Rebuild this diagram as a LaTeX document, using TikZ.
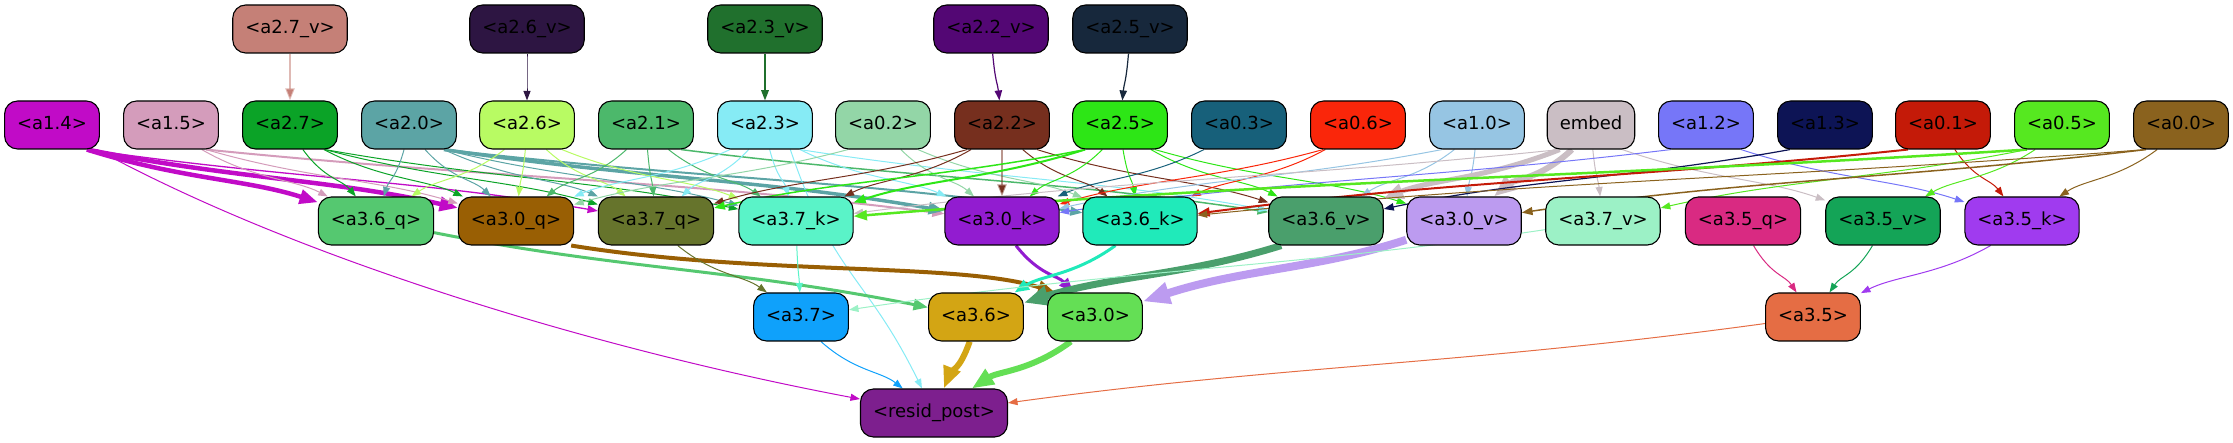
\documentclass[tikz,border=0pt]{standalone}
\usepackage{fontspec}
\setmainfont{DejaVu Sans}
\usetikzlibrary{arrows.meta,calc,backgrounds}
\definecolor{ca27v}{HTML}{C58077}
\definecolor{ca26v}{HTML}{2D1542}
\definecolor{ca23v}{HTML}{20702D}
\definecolor{ca22v}{HTML}{530774}
\definecolor{ca25v}{HTML}{17283C}
\definecolor{ca14}{HTML}{C10BC7}
\definecolor{ca15}{HTML}{D49CBB}
\definecolor{ca27}{HTML}{0BA327}
\definecolor{ca20}{HTML}{5CA4A5}
\definecolor{ca26}{HTML}{B8FB63}
\definecolor{ca21}{HTML}{4CB86B}
\definecolor{ca23}{HTML}{86EBF5}
\definecolor{ca02}{HTML}{93D6A7}
\definecolor{ca22}{HTML}{762F1E}
\definecolor{ca25}{HTML}{2DE616}
\definecolor{ca03}{HTML}{17607A}
\definecolor{ca06}{HTML}{FA260A}
\definecolor{ca10}{HTML}{96C5E3}
\definecolor{cemb}{HTML}{CABEC4}
\definecolor{ca12}{HTML}{7676F8}
\definecolor{ca13}{HTML}{0D1455}
\definecolor{ca01}{HTML}{C41A08}
\definecolor{ca05}{HTML}{56E820}
\definecolor{ca00}{HTML}{8A621E}
\definecolor{cq36}{HTML}{55C870}
\definecolor{cq30}{HTML}{995F04}
\definecolor{cq37}{HTML}{66742C}
\definecolor{ck37}{HTML}{5AF3C8}
\definecolor{ck30}{HTML}{921CD0}
\definecolor{ck36}{HTML}{20EABA}
\definecolor{cv36}{HTML}{4A9F6C}
\definecolor{cv30}{HTML}{BC9BF0}
\definecolor{cv37}{HTML}{9CF1C6}
\definecolor{cq35}{HTML}{D92A82}
\definecolor{cv35}{HTML}{14A457}
\definecolor{ck35}{HTML}{A03BEF}
\definecolor{ca37}{HTML}{0FA1FB}
\definecolor{ca36}{HTML}{D3A514}
\definecolor{ca30}{HTML}{64DF55}
\definecolor{ca35}{HTML}{E56D44}
\definecolor{cresid}{HTML}{7D1F8E}
% connector: leaves the bottom of the source, enters the target's border
\newcommand\ee[4]{\draw[edge, line width=#1pt, draw=c#2, #4] let \p1=(#2.south), \p2=(#3.center), \p3=(#2.south east), \n1={max(-(\x3-\x1-13),min(\x3-\x1-13,0.15*(\x2-\x1)))} in ({\x1+\n1},{\y1}) .. controls ({\x1+0.4*(\x2-\x1)},{0.5*(\y1+\y2)+6}) and ({\x2-0.4*(\x2-\x1)},{0.5*(\y1+\y2)+6}) .. (#3);}
% border-to-border connector
\newcommand\es[4]{\draw[edge, line width=#1pt, draw=c#2, #4] let \p1=(#2.center), \p2=(#3.center) in (#2) .. controls ({\x1+0.4*(\x2-\x1)},{0.5*(\y1+\y2)}) and ({\x2-0.4*(\x2-\x1)},{0.5*(\y1+\y2)}) .. (#3);}
\begin{document}
\begin{tikzpicture}[x=1pt,y=-1pt,
  box/.style={draw=black, line width=1.1pt, rounded corners=13pt, minimum height=48pt, inner xsep=12.5pt, inner ysep=0pt, text height=13pt, text depth=4.3pt, font=\fontsize{18}{20}\selectfont, text=black},
  edge/.style={-{Triangle[length=7pt 2.5,width=5pt 2]}}]
\useasboundingbox (0,0) rectangle (2233,443);
% row 1
\node[box, fill=ca27v] (a27v) at (290,29) {<a2.7\_v>};
\node[box, fill=ca26v] (a26v) at (527,29) {<a2.6\_v>};
\node[box, fill=ca23v] (a23v) at (765,29) {<a2.3\_v>};
\node[box, fill=ca22v] (a22v) at (991,29) {<a2.2\_v>};
\node[box, fill=ca25v] (a25v) at (1130,29) {<a2.5\_v>};
% row 2
\node[box, fill=ca14] (a14) at (52,125) {<a1.4>};
\node[box, fill=ca15] (a15) at (171,125) {<a1.5>};
\node[box, fill=ca27] (a27) at (290,125) {<a2.7>};
\node[box, fill=ca20] (a20) at (409,125) {<a2.0>};
\node[box, fill=ca26] (a26) at (527,125) {<a2.6>};
\node[box, fill=ca21] (a21) at (646,125) {<a2.1>};
\node[box, fill=ca23] (a23) at (765,125) {<a2.3>};
\node[box, fill=ca02] (a02) at (883,125) {<a0.2>};
\node[box, fill=ca22] (a22) at (1002,125) {<a2.2>};
\node[box, fill=ca25] (a25) at (1120,125) {<a2.5>};
\node[box, fill=ca03] (a03) at (1239,125) {<a0.3>};
\node[box, fill=ca06] (a06) at (1358,125) {<a0.6>};
\node[box, fill=ca10] (a10) at (1477,125) {<a1.0>};
\node[box, fill=cemb] (emb) at (1591,125) {embed};
\node[box, fill=ca12] (a12) at (1706,125) {<a1.2>};
\node[box, fill=ca13] (a13) at (1825,125) {<a1.3>};
\node[box, fill=ca01] (a01) at (1943,125) {<a0.1>};
\node[box, fill=ca05] (a05) at (2062,125) {<a0.5>};
\node[box, fill=ca00] (a00) at (2181,125) {<a0.0>};
% row 3
\node[box, fill=cq36] (q36) at (376,221) {<a3.6\_q>};
\node[box, fill=cq30] (q30) at (516,221) {<a3.0\_q>};
\node[box, fill=cq37] (q37) at (656,221) {<a3.7\_q>};
\node[box, fill=ck37] (k37) at (796,221) {<a3.7\_k>};
\node[box, fill=ck30] (k30) at (1002,221) {<a3.0\_k>};
\node[box, fill=ck36] (k36) at (1140,221) {<a3.6\_k>};
\node[box, fill=cv36] (v36) at (1326,221) {<a3.6\_v>};
\node[box, fill=cv30] (v30) at (1464,221) {<a3.0\_v>};
\node[box, fill=cv37] (v37) at (1603,221) {<a3.7\_v>};
\node[box, fill=cq35] (q35) at (1743,221) {<a3.5\_q>};
\node[box, fill=cv35] (v35) at (1883,221) {<a3.5\_v>};
\node[box, fill=ck35] (k35) at (2022,221) {<a3.5\_k>};
% row 4
\node[box, fill=ca37] (a37) at (801,317) {<a3.7>};
\node[box, fill=ca36] (a36) at (976,317) {<a3.6>};
\node[box, fill=ca30] (a30) at (1095,317) {<a3.0>};
\node[box, fill=ca35] (a35) at (1813,317) {<a3.5>};
% row 5
\node[box, fill=cresid] (resid) at (934,413) {<resid\_post>};
\begin{scope}[on background layer]
% row1 -> row2
\ee{2}{a27v}{a27}{draw opacity=0.55}
\ee{1}{a26v}{a26}{}
\ee{1.3}{a23v}{a23}{}
\ee{1.2}{a22v}{a22}{}
\ee{1.2}{a25v}{a25}{}
% row2 -> row3
\ee{4.5}{a14}{q36}{}
\ee{4.5}{a14}{q30}{}
\ee{1.3}{a14}{q37}{}
\ee{1}{a15}{q36}{}
\ee{1}{a15}{q30}{}
\ee{2}{a15}{k30}{}
\ee{1}{a27}{q36}{}
\ee{1}{a27}{q30}{}
\ee{1}{a27}{q37}{}
\ee{1}{a27}{k37}{}
\ee{1}{a20}{q36}{}
\ee{1}{a20}{q30}{}
\ee{1}{a20}{q37}{}
\ee{1}{a20}{k37}{}
\ee{3.5}{a20}{k30}{}
\ee{2}{a20}{k36}{}
\ee{1}{a26}{q36}{}
\ee{1}{a26}{q30}{}
\ee{1}{a26}{q37}{}
\ee{1}{a26}{k37}{}
\ee{1}{a21}{q30}{}
\ee{1}{a21}{q37}{}
\ee{1}{a21}{k37}{}
\ee{1.5}{a21}{v36}{}
\ee{1}{a23}{q30}{}
\ee{1}{a23}{q37}{}
\ee{1}{a23}{k37}{}
\ee{1}{a23}{k30}{}
\ee{1}{a23}{v36}{}
\ee{1}{a23}{resid}{}
\ee{1}{a02}{q30}{}
\ee{1}{a02}{k30}{}
\ee{1}{a02}{k36}{}
\ee{1}{a22}{q37}{}
\ee{1}{a22}{k37}{}
\ee{2}{a22}{k30}{draw opacity=0.5}
\ee{1}{a22}{k36}{}
\ee{1}{a22}{v36}{}
\ee{1.5}{a25}{q37}{}
\ee{2}{a25}{k37}{}
\ee{1}{a25}{k30}{}
\ee{1}{a25}{k36}{}
\ee{1}{a25}{v36}{}
\ee{1}{a25}{v30}{}
\ee{1}{a03}{k30}{}
\ee{1}{a06}{k30}{}
\ee{1}{a06}{k36}{}
\ee{1}{a10}{k30}{}
\ee{1}{a10}{v36}{}
\ee{1}{a10}{v30}{}
\ee{1}{emb}{k37}{}
\ee{5}{emb}{v36}{}
\ee{6}{emb}{v30}{}
\ee{1}{emb}{v37}{}
\ee{1}{emb}{v35}{}
\ee{1}{a12}{k30}{}
\ee{1}{a12}{k35}{}
\ee{1.2}{a13}{v36}{}
\ee{2}{a01}{k36}{}
\ee{1}{a01}{k35}{}
\ee{2.5}{a05}{k37}{}
\ee{1}{a05}{v37}{}
\ee{1}{a05}{v35}{}
\ee{1}{a00}{k36}{}
\ee{1.5}{a00}{v30}{}
\ee{1}{a00}{k35}{}
% row3 -> row4
\es{3}{q36}{a36}{}
\draw[edge, line width=4pt, draw=cq30] ([xshift=-3pt]q30.south east) .. controls (760,276) and (960,262) .. ([xshift=8pt]a30.north west);
\ee{1}{q37}{a37}{}
\ee{1}{k37}{a37}{}
\ee{3}{k30}{a30}{}
\ee{3}{k36}{a36}{}
\ee{7}{v36}{a36}{}
\es{8}{v30}{a30}{}
\es{1}{v37}{a37}{}
\ee{1}{q35}{a35}{}
\ee{1}{v35}{a35}{}
\ee{1}{k35}{a35}{}
% row4 -> resid
\ee{1}{a37}{resid}{}
\ee{6}{a36}{resid}{}
\ee{6}{a30}{resid}{}
\es{1}{a35}{resid}{}
\draw[edge, line width=1pt, draw=ca14] (a14) .. controls (300,260) and (600,350) .. (resid);
\end{scope}
\end{tikzpicture}
\end{document}
